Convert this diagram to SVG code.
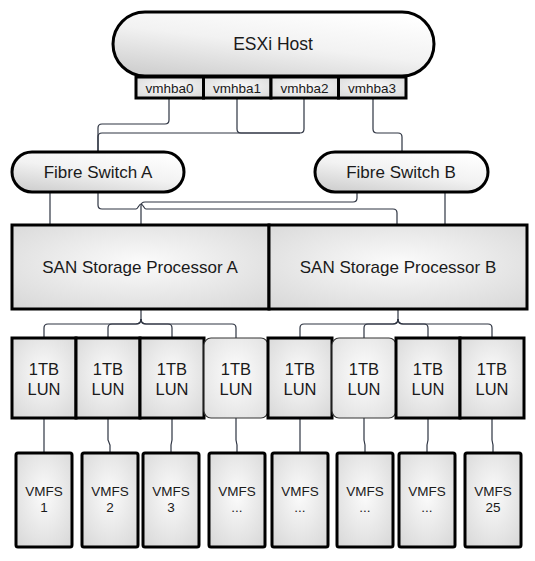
<svg xmlns="http://www.w3.org/2000/svg" width="535" height="561" viewBox="0 0 535 561">
<defs>
<radialGradient id="box" cx="50%" cy="45%" r="75%">
<stop offset="0" stop-color="#fbfbfb"/>
<stop offset="1" stop-color="#d6d6d6"/>
</radialGradient>
<linearGradient id="pill" x1="0.8" y1="0" x2="0.2" y2="1">
<stop offset="0" stop-color="#ffffff"/>
<stop offset="0.5" stop-color="#f2f2f2"/>
<stop offset="1" stop-color="#d0d0d0"/>
</linearGradient>
<radialGradient id="soft" cx="50%" cy="45%" r="75%">
<stop offset="0" stop-color="#fdfdfd"/>
<stop offset="1" stop-color="#dedede"/>
</radialGradient>
</defs>
<style>
.thick{fill:url(#box);stroke:#000;stroke-width:3}
.pillS{fill:url(#pill);stroke:#000;stroke-width:3}
.thin{fill:url(#soft);stroke:#333;stroke-width:1.2}
.c{fill:none;stroke:#2e3442;stroke-width:1.2}
text{font-family:"Liberation Sans",Arial,sans-serif;fill:#1a1a1a;text-anchor:middle}
.t17{font-size:17px}
.t16{font-size:16.5px}
.t13{font-size:13.5px}
</style>
<rect width="535" height="561" fill="#fff"/>

<g id="connectors">
<path class="c" d="M169,98 V120 Q169,124 165,124 H102 Q98,124 98,128 V152"/>
<path class="c" d="M304,98 V129 Q304,133 300,133 H102 Q98,133 98,137 V152"/>
<path class="c" d="M237,98 V129 Q237,133 241,133 H300"/>
<path class="c" d="M373,98 V129 Q373,133 377,133 H398 Q402,133 402,137 V152"/>
<path class="c" d="M50,192 V225"/>
<path class="c" d="M98,192 V205 Q98,209 102,209 H136 C138,209 139,204 141,204 C143,204 144,209 146,209 H393 Q397,209 397,213 V225"/>
<path class="c" d="M357,192 V198 Q357,202 353,202 H145 Q141,202 141,206 V225"/>
<path class="c" d="M445,192 V225"/>
<path class="c" d="M141,309 V319 Q141,324 136,324 H48 Q44,324 44,328 V338"/>
<path class="c" d="M141,319 Q141,324 136,324 H112 Q108,324 108,328 V338"/>
<path class="c" d="M141,319 Q141,324 146,324 H168 Q172,324 172,328 V338"/>
<path class="c" d="M141,319 Q141,324 146,324 H232 Q236,324 236,328 V338"/>
<path class="c" d="M398,309 V319 Q398,324 393,324 H304 Q300,324 300,328 V338"/>
<path class="c" d="M398,319 Q398,324 393,324 H368 Q364,324 364,328 V338"/>
<path class="c" d="M398,319 Q398,324 403,324 H424 Q428,324 428,328 V338"/>
<path class="c" d="M398,319 Q398,324 403,324 H488 Q492,324 492,328 V338"/>
<path class="c" d="M44,418 V453"/>
<path class="c" d="M108,418 V440 L110,445 V453"/>
<path class="c" d="M172,418 V440 L171,445 V453"/>
<path class="c" d="M236,418 V440 L237,445 V453"/>
<path class="c" d="M300,418 V453"/>
<path class="c" d="M364,418 V440 L365,445 V453"/>
<path class="c" d="M428,418 V440 L427,445 V453"/>
<path class="c" d="M492,418 V440 L493,445 V453"/>
</g>

<g id="esxi-host">
<rect class="pillS" x="113" y="12" width="321" height="64" rx="32"/>
<text class="t17" x="273" y="50" style="font-size:17.5px">ESXi Host</text>
</g>
<g id="vmhba0"><rect class="thick" x="136" y="77" width="67.5" height="21"/><text class="t13" x="169.5" y="93">vmhba0</text></g>
<g id="vmhba1"><rect class="thick" x="203.5" y="77" width="67.5" height="21"/><text class="t13" x="237" y="93">vmhba1</text></g>
<g id="vmhba2"><rect class="thick" x="271" y="77" width="67.5" height="21"/><text class="t13" x="304.5" y="93">vmhba2</text></g>
<g id="vmhba3"><rect class="thick" x="338.5" y="77" width="67.5" height="21"/><text class="t13" x="372" y="93">vmhba3</text></g>

<g id="fibre-switch-a">
<rect class="pillS" x="12" y="152" width="172" height="40" rx="20"/>
<text class="t17" x="98" y="178">Fibre Switch A</text>
</g>
<g id="fibre-switch-b">
<rect class="pillS" x="315" y="152" width="173" height="40" rx="20"/>
<text class="t17" x="401" y="178">Fibre Switch B</text>
</g>

<g id="san-sp-a">
<rect class="thick" x="12" y="225" width="257" height="84"/>
<text class="t17" x="140" y="273">SAN Storage Processor A</text>
</g>
<g id="san-sp-b">
<rect class="thick" x="269" y="225" width="258" height="84"/>
<text class="t17" x="398" y="273">SAN Storage Processor B</text>
</g>

<g id="lun1"><rect class="thick" x="12" y="338" width="64" height="80"/><text class="t16" x="44" y="375">1TB</text><text class="t16" x="44" y="395">LUN</text></g>
<g id="lun2"><rect class="thick" x="76" y="338" width="64" height="80"/><text class="t16" x="108" y="375">1TB</text><text class="t16" x="108" y="395">LUN</text></g>
<g id="lun3"><rect class="thick" x="140" y="338" width="64" height="80"/><text class="t16" x="172" y="375">1TB</text><text class="t16" x="172" y="395">LUN</text></g>
<g id="lun4"><rect class="thin" x="204" y="338" width="64" height="80" rx="7"/><text class="t16" x="236" y="375">1TB</text><text class="t16" x="236" y="395">LUN</text></g>
<g id="lun5"><rect class="thick" x="268" y="338" width="64" height="80"/><text class="t16" x="300" y="375">1TB</text><text class="t16" x="300" y="395">LUN</text></g>
<g id="lun6"><rect class="thin" x="332" y="338" width="64" height="80" rx="7"/><text class="t16" x="364" y="375">1TB</text><text class="t16" x="364" y="395">LUN</text></g>
<g id="lun7"><rect class="thick" x="396" y="338" width="64" height="80"/><text class="t16" x="428" y="375">1TB</text><text class="t16" x="428" y="395">LUN</text></g>
<g id="lun8"><rect class="thick" x="460" y="338" width="64" height="80"/><text class="t16" x="492" y="375">1TB</text><text class="t16" x="492" y="395">LUN</text></g>

<g id="vmfs1"><rect class="thick" x="16" y="453" width="56" height="94" rx="2"/><text class="t13" x="44" y="496">VMFS</text><text class="t13" x="44" y="512">1</text></g>
<g id="vmfs2"><rect class="thick" x="82" y="453" width="56" height="94" rx="2"/><text class="t13" x="110" y="496">VMFS</text><text class="t13" x="110" y="512">2</text></g>
<g id="vmfs3"><rect class="thick" x="143" y="453" width="56" height="94" rx="2"/><text class="t13" x="171" y="496">VMFS</text><text class="t13" x="171" y="512">3</text></g>
<g id="vmfs4"><rect class="thick" x="209" y="453" width="56" height="94" rx="2"/><text class="t13" x="237" y="496">VMFS</text><text class="t13" x="237" y="512">...</text></g>
<g id="vmfs5"><rect class="thick" x="272" y="453" width="56" height="94" rx="2"/><text class="t13" x="300" y="496">VMFS</text><text class="t13" x="300" y="512">...</text></g>
<g id="vmfs6"><rect class="thick" x="337" y="453" width="56" height="94" rx="2"/><text class="t13" x="365" y="496">VMFS</text><text class="t13" x="365" y="512">...</text></g>
<g id="vmfs7"><rect class="thick" x="399" y="453" width="56" height="94" rx="2"/><text class="t13" x="427" y="496">VMFS</text><text class="t13" x="427" y="512">...</text></g>
<g id="vmfs8"><rect class="thick" x="465" y="453" width="56" height="94" rx="2"/><text class="t13" x="493" y="496">VMFS</text><text class="t13" x="493" y="512">25</text></g>
</svg>
